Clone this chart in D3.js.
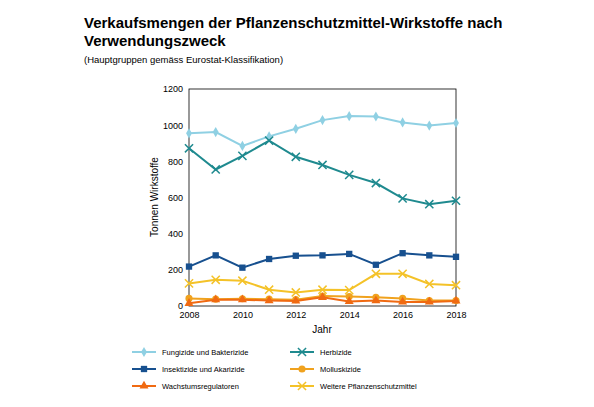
<!DOCTYPE html>
<html><head><meta charset="utf-8">
<script src="https://cdn.jsdelivr.net/npm/d3@7"></script>
<style>body{margin:0;background:#fff;font-family:"Liberation Sans",Arial,sans-serif}</style>
</head><body>
<svg width="594" height="407"></svg>
<script>
const years = [2008,2009,2010,2011,2012,2013,2014,2015,2016,2017,2018];
const fungizide = [955,962,885,938,980,1028,1050,1048,1015,998,1012];
const herbizide = [872,755,830,915,825,780,725,680,595,563,582];
const insektizide = [218,280,212,260,278,280,288,228,292,280,272];
const molluskizide = [42,38,40,38,35,55,52,48,42,30,30];
const wachstum = [15,35,35,30,28,48,25,30,22,22,28];
const weitere = [125,145,140,90,75,90,88,178,178,122,115];
const yTicks = [0,200,400,600,800,1000,1200];

const series = [
  {name:"Fungizide und Bakterizide", values:fungizide, color:"#8fd0e3", sym:d3.symbolDiamond, size:30},
  {name:"Herbizide", values:herbizide, color:"#1f8a8f", sym:d3.symbolX, size:45},
  {name:"Insektizide und Akarizide", values:insektizide, color:"#17508f", sym:d3.symbolSquare, size:40},
  {name:"Molluskizide", values:molluskizide, color:"#f0a21e", sym:d3.symbolCircle, size:40},
  {name:"Wachstumsregulatoren", values:wachstum, color:"#f06a12", sym:d3.symbolTriangle, size:35},
  {name:"Weitere Pflanzenschutzmittel", values:weitere, color:"#f4c228", sym:d3.symbolX, size:45}
];

const svg = d3.select("svg");
svg.append("text").attr("x",84).attr("y",28).attr("font-size",15).attr("font-weight","bold")
  .text("Verkaufsmengen der Pflanzenschutzmittel-Wirkstoffe nach");
svg.append("text").attr("x",84).attr("y",46).attr("font-size",15).attr("font-weight","bold")
  .text("Verwendungszweck");
svg.append("text").attr("x",84).attr("y",63).attr("font-size",9.5)
  .text("(Hauptgruppen gemäss Eurostat-Klassifikation)");

const x = d3.scaleLinear().domain([2008,2018]).range([189,456]);
const y = d3.scaleLinear().domain([0,1200]).range([306,89]);

svg.append("rect").attr("x",189).attr("y",89).attr("width",267).attr("height",217)
  .attr("fill","none").attr("stroke","#000").attr("stroke-width",0.8);

const gY = svg.append("g").attr("transform","translate(189,0)")
  .call(d3.axisLeft(y).tickValues(yTicks).tickFormat(d3.format("d")).tickSize(0).tickPadding(6));
const gX = svg.append("g").attr("transform","translate(0,306)")
  .call(d3.axisBottom(x).tickValues([2008,2010,2012,2014,2016,2018]).tickFormat(d3.format("d")).tickSize(0).tickPadding(6));
[gX,gY].forEach(g=>{g.select(".domain").remove();g.selectAll("text").attr("font-size",9).attr("font-family","Liberation Sans, Arial");});

svg.append("text").attr("x",322).attr("y",333).attr("text-anchor","middle").attr("font-size",10).text("Jahr");
svg.append("text").attr("transform","translate(158,197) rotate(-90)").attr("text-anchor","middle").attr("font-size",10).text("Tonnen Wirkstoffe");

const line = d3.line().x((d,i)=>x(years[i])).y(d=>y(d));
series.forEach(s=>{
  svg.append("path").attr("d",line(s.values)).attr("fill","none").attr("stroke",s.color).attr("stroke-width",2);
  const sym = d3.symbol().type(s.sym).size(s.size);
  svg.selectAll(null).data(s.values).enter().append("path").attr("d",sym)
    .attr("transform",(d,i)=>`translate(${x(years[i])},${y(d)})`)
    .attr("fill",s.color).attr("stroke",s.sym===d3.symbolX?s.color:"none").attr("stroke-width",1.5);
});

series.forEach((s,i)=>{
  const lx = i%2===0 ? 132 : 290, ly = 352 + Math.floor(i/2)*17;
  svg.append("line").attr("x1",lx).attr("x2",lx+24).attr("y1",ly).attr("y2",ly).attr("stroke",s.color).attr("stroke-width",2);
  svg.append("path").attr("d",d3.symbol().type(s.sym).size(s.size)()).attr("transform",`translate(${lx+12},${ly})`)
    .attr("fill",s.color).attr("stroke",s.sym===d3.symbolX?s.color:"none").attr("stroke-width",1.5);
  svg.append("text").attr("x",lx+30).attr("y",ly+3).attr("font-size",7.5).text(s.name);
});
</script>
</body></html>
